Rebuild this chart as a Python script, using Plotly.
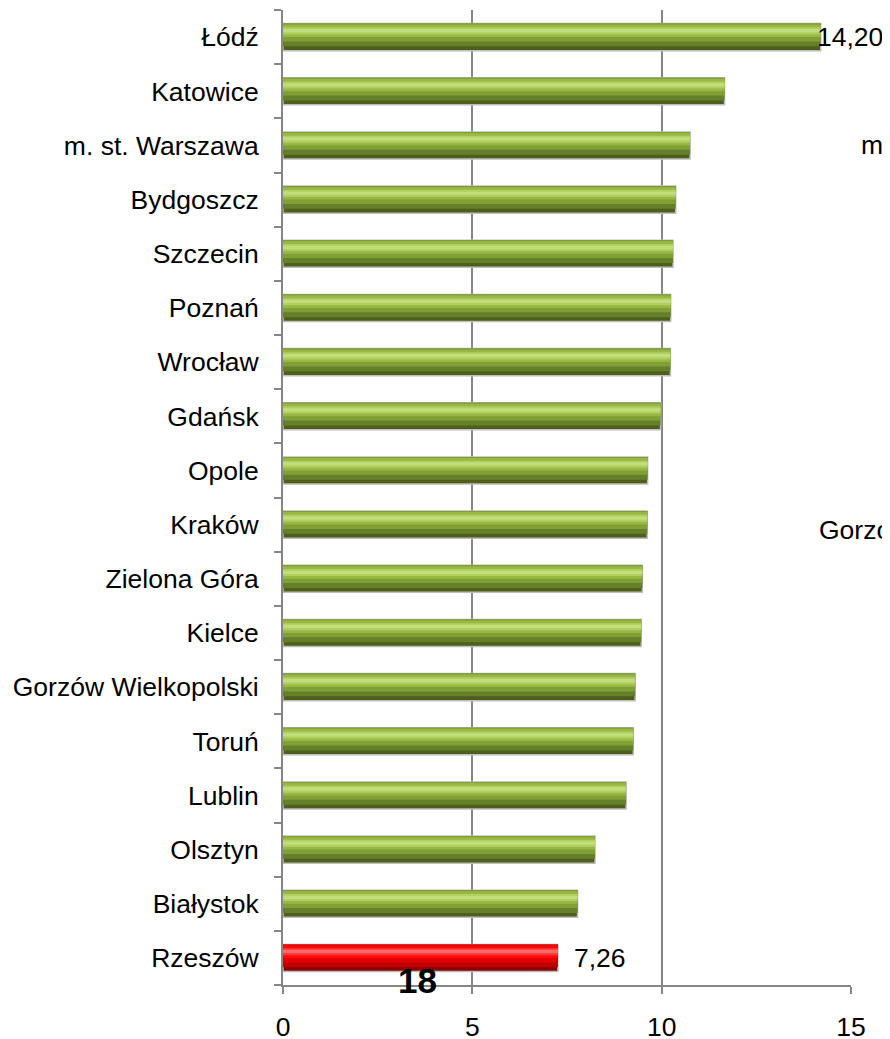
import plotly.graph_objects as go

# Data (top to bottom as in the chart)
cities = ["Łódź", "Katowice", "m. st. Warszawa", "Bydgoszcz", "Szczecin", "Poznań",
          "Wrocław", "Gdańsk", "Opole", "Kraków", "Zielona Góra", "Kielce",
          "Gorzów Wielkopolski", "Toruń", "Lublin", "Olsztyn", "Białystok", "Rzeszów"]
values = [14.20, 11.66, 10.75, 10.37, 10.30, 10.24, 10.23, 9.97, 9.63, 9.62,
          9.49, 9.46, 9.30, 9.25, 9.06, 8.24, 7.78, 7.26]
highlight = ["Rzeszów"]
labeled = {"Łódź": -6, "Rzeszów": 14}  # value label -> pixel shift
x_ticks = [0, 5, 10, 15]

FONT = "Liberation Sans, Arial, sans-serif"
FS = 26.5

ys = cities[::-1]
xs = values[::-1]

green_layers = ["#4e5f1c", "#65802a", "#809f34", "#98b843", "#b0cf5e", "#c2dd7c"]
red_layers = ["#8a0000", "#c00000", "#e40000", "#ff0a0a", "#ff3a3a", "#ff6a6a"]
layer_geo = [(-0.25, 0.50), (-0.17, 0.42), (-0.08, 0.33), (0.00, 0.23),
             (0.05, 0.13), (0.09, 0.06)]

fig = go.Figure()
for i, (off, w) in enumerate(layer_geo):
    colors = [red_layers[i] if c in highlight else green_layers[i] for c in ys]
    fig.add_trace(go.Bar(
        x=xs, y=ys, orientation="h", offset=off, width=w,
        marker=dict(color=colors,
                    line=dict(color="#bdbdbd" if i == 0 else "rgba(0,0,0,0)",
                              width=1.5 if i == 0 else 0)),
        hoverinfo="skip", showlegend=False,
    ))

annotations = []
for c, v in zip(cities, values):
    if c in labeled:
        annotations.append(dict(
            x=v, y=c, xref="x", yref="y", xanchor="left", yanchor="middle",
            xshift=labeled[c], showarrow=False,
            text=f"{v:.2f}".replace(".", ","),
            font=dict(family=FONT, size=FS, color="#000000")))

# stray texts from a neighbouring chart / page (page pixel positions)
stray = [
    (859, 145, "m. st. Warszawa", "left", FS, False),
    (817, 530, "Gorzów Wielkopolski", "left", FS, False),
    (417, 980, "18", "center", 35, True),
]

# the figure sits 8px in from the page corner (default body margin)
OFF = 8
W, H = 890, 1039
L, R, T, B = 283 - OFF, 39 + OFF, 10 - OFF, 54 + OFF
pw, ph = W - L - R, H - T - B
for px, py, txt, anc, size, bold in stray:
    annotations.append(dict(
        x=(px - OFF - L) / pw, y=1 - (py - OFF - T) / ph,
        xref="paper", yref="paper", showarrow=False,
        text=f"<b>{txt}</b>" if bold else txt,
        xanchor=anc, yanchor="middle",
        font=dict(family=FONT, size=size, color="#000000")))

fig.update_layout(
    width=W, height=H,
    margin=dict(l=L, r=R, t=T, b=B, pad=0),
    paper_bgcolor="white", plot_bgcolor="white",
    barmode="overlay",
    font=dict(family=FONT, size=FS, color="#000000"),
    annotations=annotations,
    xaxis=dict(range=[0, 15], tickvals=x_ticks, ticktext=[str(t) for t in x_ticks],
               showgrid=True, gridcolor="#868686", gridwidth=2,
               zeroline=False, showline=True, linecolor="#868686", linewidth=2,
               ticks="outside", ticklen=7, tickwidth=2, tickcolor="#868686",
               ticklabelstandoff=10,
               tickfont=dict(family=FONT, size=FS, color="#000000")),
    yaxis=dict(type="category", categoryorder="array", categoryarray=ys,
               showgrid=False, zeroline=False, showline=True,
               linecolor="#868686", linewidth=2,
               ticks="outside", ticklen=7, tickwidth=2, tickcolor="#868686",
               tickson="boundaries", ticklabelstandoff=17,
               tickfont=dict(family=FONT, size=FS, color="#000000")),
)

fig.write_html("out.html", config={"displayModeBar": False})
